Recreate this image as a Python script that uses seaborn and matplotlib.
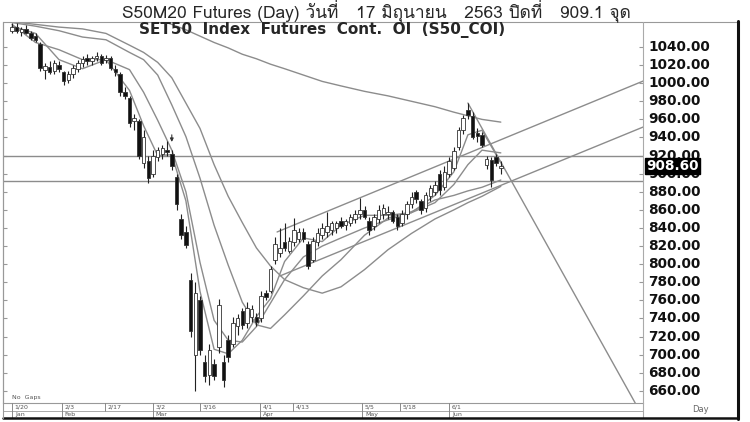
import numpy as np
import pandas as pd
import matplotlib
matplotlib.use("Agg")
import matplotlib.pyplot as plt
import matplotlib.transforms as mtransforms
from matplotlib import font_manager
from matplotlib.ft2font import FT2Font
from matplotlib.lines import Line2D
import seaborn as sns

# --- daily candles (index = trading day since 1/20) ---
opens = [1058, 1062, 1057, 1060, 1055, 1052, 1043, 1015, 1018, 1014, 1020, 1012, 1004, 1010, 1016, 1022, 1028, 1024, 1028, 1030,
         1026, 1028, 1016, 1010, 990, 984, 958, 958, 912, 914, 900, 918, 922, 926, 922, 896, 850, 836, 782, 700,
         760, 692, 678, 690, 708, 692, 716, 712, 732, 748, 735, 742, 742, 740, 768, 770, 805, 812, 825, 815,
         825, 828, 836, 822, 805, 825, 832, 836, 838, 840, 848, 843, 845, 850, 855, 860, 848, 842, 850, 855,
         856, 858, 852, 845, 855, 866, 880, 870, 862, 875, 880, 900, 885, 900, 906, 930, 948, 970, 964, 945,
         943, 910, 915, 918, 906]
highs = [1066, 1067, 1062, 1064, 1058, 1055, 1045, 1022, 1024, 1026, 1024, 1014, 1014, 1020, 1026, 1030, 1032, 1030, 1034, 1032,
         1031, 1030, 1020, 1012, 996, 986, 966, 960, 948, 920, 926, 930, 932, 936, 926, 900, 856, 842, 790, 780,
         765, 700, 712, 695, 762, 700, 722, 742, 745, 752, 758, 755, 746, 770, 772, 798, 830, 840, 845, 830,
         851, 840, 840, 826, 830, 840, 845, 858, 848, 848, 852, 850, 856, 860, 873, 864, 852, 856, 865, 866,
         864, 860, 856, 860, 870, 880, 882, 872, 880, 888, 892, 904, 908, 918, 930, 952, 965, 978, 968, 950,
         946, 920, 918, 922, 914]
lows = [1055, 1056, 1052, 1054, 1048, 1045, 1014, 1005, 1010, 1010, 1012, 998, 1000, 1006, 1012, 1018, 1020, 1020, 1024, 1020,
        1022, 1015, 1008, 986, 982, 952, 948, 916, 906, 890, 896, 914, 916, 920, 904, 860, 828, 818, 720, 660,
        700, 670, 666, 672, 702, 664, 692, 708, 722, 728, 730, 736, 732, 736, 760, 768, 800, 808, 815, 812,
        820, 825, 825, 795, 802, 820, 828, 830, 832, 835, 840, 838, 842, 846, 850, 850, 832, 838, 846, 850,
        850, 845, 838, 842, 850, 862, 868, 856, 858, 870, 876, 876, 882, 896, 904, 926, 944, 960, 938, 935,
        930, 905, 885, 908, 900]
closes = [1062, 1058, 1060, 1056, 1050, 1048, 1017, 1019, 1012, 1022, 1016, 1002, 1010, 1017, 1022, 1027, 1024, 1028, 1030, 1022,
          1028, 1017, 1012, 990, 986, 956, 962, 920, 940, 895, 920, 926, 928, 924, 908, 866, 832, 821, 726, 768,
          705, 676, 705, 676, 755, 672, 698, 735, 740, 733, 752, 750, 736, 765, 764, 795, 822, 818, 818, 826,
          838, 836, 828, 798, 826, 835, 840, 842, 845, 846, 842, 848, 852, 856, 860, 852, 838, 852, 860, 862,
          858, 848, 842, 856, 866, 874, 872, 860, 876, 884, 888, 882, 902, 914, 925, 948, 962, 965, 941, 942,
          932, 916, 893, 912, 908.6]

# --- moving averages, read at these day indices ---
ma_days = [0, 5, 10, 15, 20, 25, 28, 31, 34, 37, 40, 43, 46, 49, 52, 55, 58, 62, 66, 70, 75, 80, 85, 90, 94, 97, 100, 104]
ma5 = [1063, 1055, 1026, 1016, 1026, 992, 953, 920, 921, 870, 770, 706, 701, 716, 742, 762, 803, 829, 825, 843,
       854, 854, 857, 876, 902, 943, 948, 912]
ma10 = [1065, 1045, 1037, 1026, 1026, 1015, 990, 959, 926, 880, 802, 738, 716, 714, 731, 757, 783, 808, 820, 829,
        840, 849, 857, 868, 888, 910, 926, 923]
ma25 = [1067, 1063, 1058, 1051, 1048, 1034, 1026, 1009, 976, 941, 895, 843, 799, 758, 733, 729, 744, 765, 787, 805,
        832, 851, 858, 871, 876, 881, 885, 893]
ma50 = [1068, 1065, 1062, 1060, 1055, 1042, 1034, 1023, 1006, 978, 950, 910, 875, 846, 818, 798, 783, 774, 768, 775,
        794, 816, 834, 850, 860, 868, 875, 886]
ma200 = [np.nan] * 6 + [1073, 1070, 1065, 1059, 1052, 1045, 1039, 1032, 1027, 1021, 1016, 1009, 1002, 997,
                        991, 986, 980, 974, 968, 964, 960, 957]

# --- trend lines (day, price) and levels ---
upper_channel = ([56.4, 134.3], [835.6, 1002.4])
lower_channel = ([57.0, 134.3], [787.0, 951.6])
down_line = ([97.0, 132.6], [978.1, 646.6])
h_levels = [919.5, 892.0]

tick_days = [0, 10.6, 19.8, 30, 40, 52.8, 59.8, 74.5, 82.6, 93]
tick_labels = ["1/20", "2/3", "2/17", "3/2", "3/16", "4/1", "4/13", "5/5", "5/18", "6/1"]
month_labels = ["Jan", "Feb", "", "Mar", "", "Apr", "", "May", "", "Jun"]
price_ticks = list(range(660, 1041, 20))
last_price = 908.60

title = "S50M20 Futures (Day) วันที่   17 มิถุนายน   2563 ปิดที่   909.1 จุด"
subtitle = "SET50  Index  Futures  Cont.  OI  (S50_COI)"


def find_thai_font():
    for f in font_manager.fontManager.ttflist:
        try:
            if 0x0E27 in FT2Font(f.fname).get_charmap():
                return f.name
        except Exception:
            continue
    return None


sns.set_style("white")
plt.rcParams['font.family'] = ['DejaVu Sans']
thai = find_thai_font()
title_family = [thai, 'DejaVu Sans'] if thai else ['DejaVu Sans']

W, H = 750, 422
fig = plt.figure(figsize=(7.5, 4.22), dpi=100)


def fx(px):
    return px / W


def fy(py):
    return 1 - py / H


ax = fig.add_axes([fx(3), fy(403), (643 - 3) / W, (403 - 22) / H])
ax.set_xlim(-1.915, 134.255)
ax.set_ylim(646.63, 1067.62)

grey = '#8c8c8c'
# moving averages
df_ma = pd.DataFrame({'day': ma_days, 'ma5': ma5, 'ma10': ma10, 'ma25': ma25, 'ma50': ma50, 'ma200': ma200})
for col in ['ma5', 'ma10', 'ma25', 'ma50', 'ma200']:
    sns.lineplot(data=df_ma, x='day', y=col, ax=ax, color=grey, linewidth=1.0)

# trend lines and levels
for xs, ys in [upper_channel, lower_channel, down_line]:
    ax.plot(xs, ys, color=grey, linewidth=1.0)
for lv in h_levels:
    ax.axhline(lv, color=grey, linewidth=1.0)

# candles
days = np.arange(len(closes))
ax.vlines(days, lows, highs, color='#222222', linewidth=0.8, zorder=3)
for d, o, c in zip(days, opens, closes):
    lo, hi = min(o, c), max(o, c)
    face = '#111111' if c < o else 'white'
    ax.bar(d, max(hi - lo, 1.5), bottom=lo, width=0.75, color=face, edgecolor='#333333',
           linewidth=0.6, zorder=4)

ax.annotate('', xy=(34, 932), xytext=(34, 946),
            arrowprops=dict(arrowstyle='-|>', color='#333333', lw=0.8, mutation_scale=5))

ax.set_xticks([])
ax.set_yticks(price_ticks)
ax.tick_params(axis='y', left=True, right=True, labelleft=False, labelright=False,
               direction='in', length=3, color='#999999')
ax.set_xlabel('')
ax.set_ylabel('')
for s in ['top', 'right']:
    ax.spines[s].set_visible(False)
for s in ['left', 'bottom']:
    ax.spines[s].set_color('#999999')
    ax.spines[s].set_linewidth(0.8)

# price labels on the right panel
trans = mtransforms.blended_transform_factory(ax.transAxes, ax.transData)
for p in price_ticks:
    ax.text((648 - 3) / 640, p, f"{p:.2f}", transform=trans, ha='left', va='center',
            fontsize=9.8, fontweight='bold', color='#111111', clip_on=False)
ax.text((646 - 3) / 640, last_price, f"{last_price:.2f}", transform=trans, ha='left', va='center',
        fontsize=9.8, fontweight='bold', color='white', clip_on=False, zorder=10,
        bbox=dict(boxstyle='square,pad=0.08', facecolor='black', edgecolor='black'))

ax.text((12 - 3) / 640, 0.008, "No  Gaps", transform=ax.transAxes, fontsize=4.5,
        color='#555555', ha='left', va='bottom')

# date strip
dax = fig.add_axes([fx(3), fy(418), (643 - 3) / W, (418 - 403) / H])
dax.set_xlim(ax.get_xlim())
dax.set_ylim(0, 2)
dax.axis('off')
dax.axhline(1, color='#aaaaaa', linewidth=0.7)
for d, lab, mon in zip(tick_days, tick_labels, month_labels):
    dax.vlines(d, 1, 2, color='#777777', linewidth=0.6)
    dax.text(d + 0.6, 1.5, lab, fontsize=4.5, color='#555555', ha='left', va='center')
    if mon:
        dax.vlines(d, 0, 1, color='#777777', linewidth=0.6)
        dax.text(d + 0.6, 0.5, mon, fontsize=4.5, color='#555555', ha='left', va='center')

# frame
fig.add_artist(Line2D([fx(3), fx(738)], [fy(22), fy(22)], color='#999999', linewidth=0.8))
fig.add_artist(Line2D([fx(643), fx(643)], [fy(22), fy(418)], color='#aaaaaa', linewidth=0.8))
fig.add_artist(Line2D([fx(738), fx(738)], [fy(21), fy(419)], color='#111111', linewidth=2.2))
fig.add_artist(Line2D([fx(3), fx(738)], [fy(418), fy(418)], color='#111111', linewidth=1.8))
fig.add_artist(Line2D([fx(3), fx(3)], [fy(22), fy(418)], color='#999999', linewidth=0.8))

fig.text(fx(700), fy(410), "Day", fontsize=6, color='#666666', ha='center', va='center')

fig.text(fx(376), fy(11), title, fontsize=12.5, ha='center', va='center', family=title_family)
fig.text(fx(322), fy(30), subtitle, fontsize=11, fontweight='heavy', ha='center', va='center')

fig.savefig('out.png', dpi=100)
